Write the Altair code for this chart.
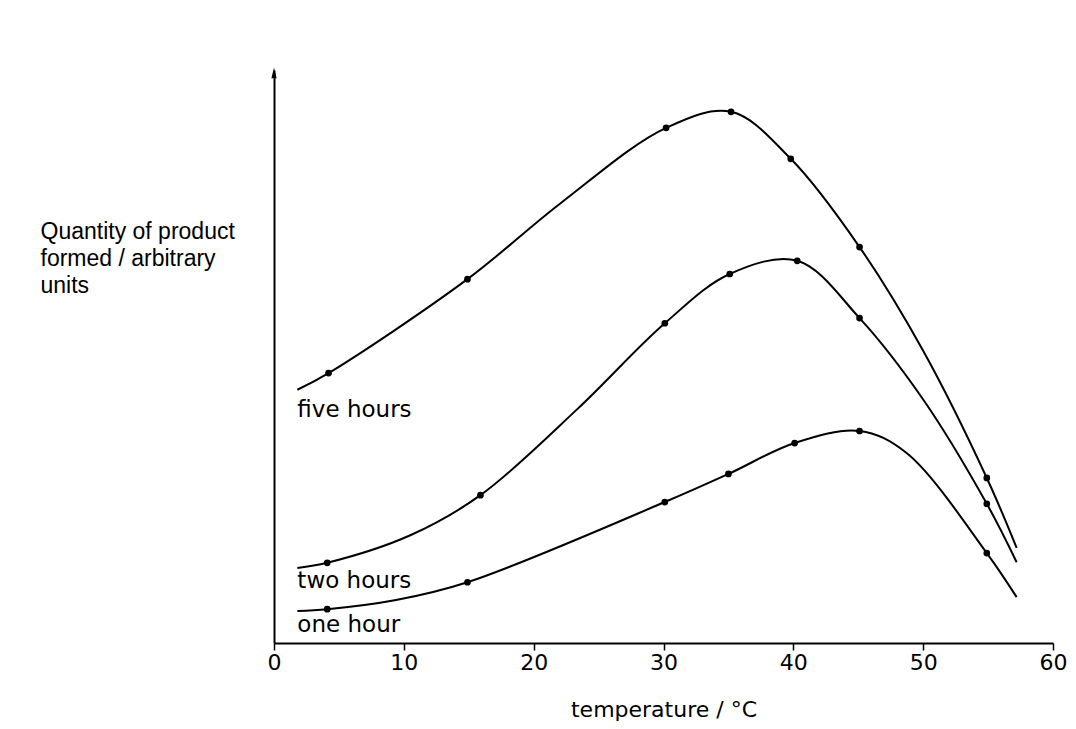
import altair as alt
import pandas as pd

# ---- data (temperature / °C, quantity in arbitrary units 0-100) ----
series_names = ["five hours", "two hours", "one hour"]

# smooth-curve points (start, measured points, a few read-off curve points, end)
five_line_t = [1.8, 4.2, 14.9, 22.1, 30.2, 35.2, 39.8, 45.1, 50.0, 54.9, 57.2]
five_line_q = [44.2, 47.1, 63.5, 76.8, 89.9, 92.7, 84.5, 69.1, 51.0, 28.8, 16.6]

two_line_t = [1.8, 4.1, 10.5, 15.9, 23.4, 30.1, 35.1, 40.3, 45.1, 50.0, 54.9, 57.2]
two_line_q = [13.1, 14.0, 18.8, 25.8, 40.9, 55.8, 64.4, 66.7, 56.7, 42.5, 24.3, 14.1]

one_line_t = [1.8, 4.1, 9.4, 14.9, 30.1, 35.0, 40.1, 45.1, 48.7, 54.9, 57.2]
one_line_q = [5.6, 5.9, 7.5, 10.6, 24.6, 29.5, 34.9, 37.0, 33.2, 15.7, 8.0]

# measured points (dots)
five_dot_t = [4.2, 14.9, 30.2, 35.2, 39.8, 45.1, 54.9]
five_dot_q = [47.1, 63.5, 89.9, 92.7, 84.5, 69.1, 28.8]

two_dot_t = [4.1, 15.9, 30.1, 35.1, 40.3, 45.1, 54.9]
two_dot_q = [14.0, 25.8, 55.8, 64.4, 66.7, 56.7, 24.3]

one_dot_t = [4.1, 14.9, 30.1, 35.0, 40.1, 45.1, 54.9]
one_dot_q = [5.9, 10.6, 24.6, 29.5, 34.9, 37.0, 15.7]

# curve labels
label_t = [1.8, 1.8, 1.8]
label_q = [39.4, 9.6, 1.9]

x_ticks = [0, 10, 20, 30, 40, 50, 60]
y_title = ["Quantity of product", "formed / arbitrary", "units"]
x_title = "temperature / °C"

# ---- tables ----
line_rows = []
for name, ts, qs in [("five hours", five_line_t, five_line_q),
                     ("two hours", two_line_t, two_line_q),
                     ("one hour", one_line_t, one_line_q)]:
    for i, (t, q) in enumerate(zip(ts, qs)):
        line_rows.append({"series": name, "temp": t, "qty": q, "order": i})
lines_df = pd.DataFrame(line_rows)

dot_rows = []
for name, ts, qs in [("five hours", five_dot_t, five_dot_q),
                     ("two hours", two_dot_t, two_dot_q),
                     ("one hour", one_dot_t, one_dot_q)]:
    for t, q in zip(ts, qs):
        dot_rows.append({"series": name, "temp": t, "qty": q})
dots_df = pd.DataFrame(dot_rows)

labels_df = pd.DataFrame({"series": series_names, "temp": label_t, "qty": label_q})
arrow_df = pd.DataFrame({"temp": [0], "qty": [100]})

SCAN_FONT = "DejaVu Sans"

x_enc = alt.X(
    "temp:Q",
    scale=alt.Scale(domain=[0, 60], nice=False, zero=False),
    axis=alt.Axis(
        values=x_ticks, title=x_title, grid=False,
        domainColor="black", domainWidth=2,
        tickColor="black", tickWidth=1.5, tickSize=7,
        labelFont=SCAN_FONT, labelFontSize=22, labelColor="black",
        labelPadding=2, labelFlush=False,
        titleFont=SCAN_FONT, titleFontSize=22, titleFontWeight="normal",
        titleColor="black", titleBaseline="alphabetic", titleY=73,
    ),
)
y_enc = alt.Y(
    "qty:Q",
    scale=alt.Scale(domain=[0, 100], nice=False, zero=False),
    axis=alt.Axis(
        title=y_title, grid=False, ticks=False, labels=False,
        domainColor="black", domainWidth=2,
        titleAngle=0, titleAlign="left", titleBaseline="alphabetic",
        titleX=-234, titleY=168, titleLineHeight=27,
        titleFont="Liberation Sans", titleFontSize=23, titleFontWeight="normal",
        titleColor="black",
    ),
)

curves = alt.Chart(lines_df).mark_line(
    interpolate="catmull-rom", color="black", strokeWidth=2
).encode(x=x_enc, y=y_enc, detail="series:N", order="order:Q")

dots = alt.Chart(dots_df).mark_circle(color="black", size=45, opacity=1).encode(
    x=x_enc, y=y_enc
)

labels = alt.Chart(labels_df).mark_text(
    align="left", baseline="alphabetic", font=SCAN_FONT, fontSize=23, color="black"
).encode(x=x_enc, y=y_enc, text="series:N")

arrow = alt.Chart(arrow_df).mark_point(
    shape="M0,-1L0.5,1L-0.5,1Z", filled=True, color="black", size=110, opacity=1, yOffset=3
).encode(x=x_enc, y=y_enc)

chart = alt.layer(curves, dots, labels, arrow).properties(
    width=779, height=573,
    autosize=alt.AutoSizeParams(type="none"),
    padding={"left": 266, "top": 62, "right": 15, "bottom": 78},
).configure_view(stroke=None)

chart.save("out.html", embed_options={"renderer": "svg", "actions": False})
